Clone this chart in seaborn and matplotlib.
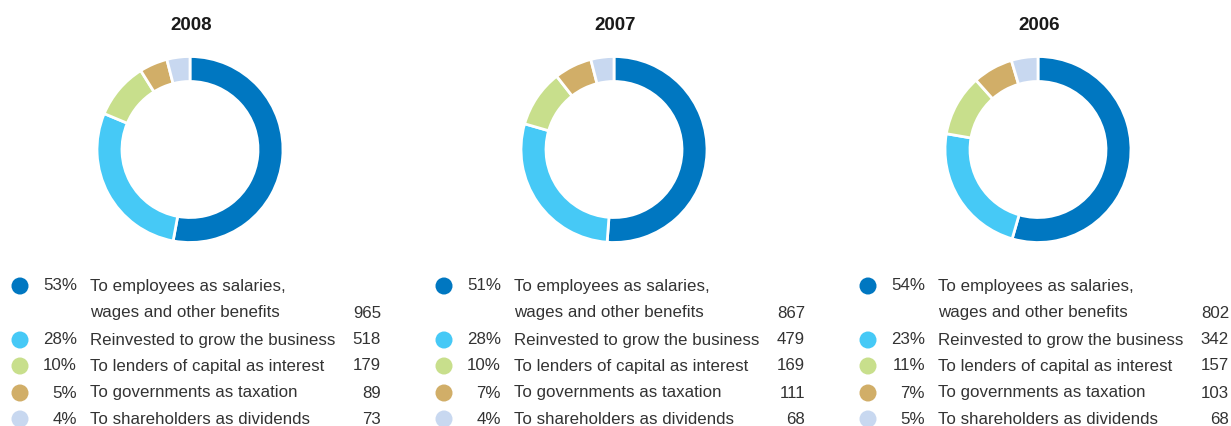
import matplotlib
matplotlib.use("Agg")
import matplotlib.pyplot as plt
import seaborn as sns
import pandas as pd

# Distribution of value added, by year
years = ["2008", "2007", "2006"]
categories = [
    "To employees as salaries,\nwages and other benefits",
    "Reinvested to grow the business",
    "To lenders of capital as interest",
    "To governments as taxation",
    "To shareholders as dividends",
]
amounts_2008 = [965, 518, 179, 89, 73]
amounts_2007 = [867, 479, 169, 111, 68]
amounts_2006 = [802, 342, 157, 103, 68]
percent_2008 = [53, 28, 10, 5, 4]
percent_2007 = [51, 28, 10, 7, 4]
percent_2006 = [54, 23, 11, 7, 5]

colors = ["#0077c1", "#46c9f6", "#c8df8c", "#d1ae68", "#c8d8f0"]

amounts = [amounts_2008, amounts_2007, amounts_2006]
percents = [percent_2008, percent_2007, percent_2006]

sns.set_theme(style="white")
plt.rcParams["font.family"] = ["Liberation Sans", "DejaVu Sans"]

W, H = 1231, 426
fig = plt.figure(figsize=(W / 100, H / 100), dpi=100)

# overlay axes in pixel coordinates for the legend blocks and titles
ov = fig.add_axes([0, 0, 1, 1])

panel_step = 424
centre_x0 = 190
centre_y = 149.5
radius = 93
ring = 25
row_y = [286, 313, 340, 366, 393, 419]
text_color = "#333333"
fs = 12.2

dot_rows = []
for p, (yr, vals, pcts) in enumerate(zip(years, amounts, percents)):
    off = p * panel_step
    cx = centre_x0 + off

    # donut
    ax = fig.add_axes([(cx - radius) / W, (H - centre_y - radius) / H,
                       2 * radius / W, 2 * radius / H])
    ax.pie(vals, colors=colors, startangle=90, counterclock=False,
           wedgeprops=dict(width=ring / radius, edgecolor="white", linewidth=2))
    ax.set_aspect("equal")
    ax.set_xlim(-1, 1)
    ax.set_ylim(-1, 1)

    ov.text(cx + 1, 25, yr, ha="center", va="center", fontsize=13.5,
            fontweight="bold", color="#1a1a1a")

    # legend rows
    rows = [0, 2, 3, 4, 5]
    for i, (cat, v, pc) in enumerate(zip(categories, vals, pcts)):
        ry = row_y[rows[i]]
        dot_rows.append({"x": 20 + off, "y": ry, "cat": i})
        ov.text(77 + off, ry, f"{pc}%", ha="right", va="center",
                fontsize=fs, color=text_color)
        lines = cat.split("\n")
        for j, line in enumerate(lines):
            ov.text(90 + off, row_y[rows[i] + j], line,
                    ha="left", va="center", fontsize=fs, color=text_color)
        vy = row_y[rows[i] + len(lines) - 1]
        ov.text(381 + off, vy, f"{v}", ha="right", va="center",
                fontsize=fs, color=text_color)

dots = pd.DataFrame(dot_rows)
sns.scatterplot(data=dots, x="x", y="y", hue="cat", palette=colors,
                s=150, linewidth=0, legend=False, ax=ov)
ov.set_xlim(0, W)
ov.set_ylim(H, 0)
ov.axis("off")

fig.savefig("out.png", dpi=100)
